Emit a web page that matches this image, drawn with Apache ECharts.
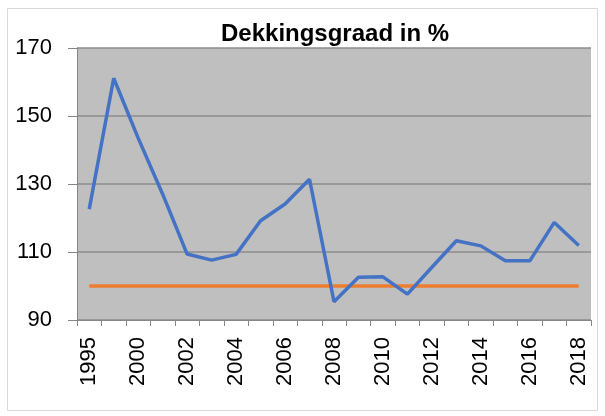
<!DOCTYPE html>
<html>
<head>
<meta charset="utf-8">
<script src="https://cdn.jsdelivr.net/npm/echarts@6/dist/echarts.min.js"></script>
<style>
  html, body { margin: 0; padding: 0; background: #fff; }
  #chart { width: 605px; height: 416px; }
</style>
</head>
<body>
<div id="chart"></div>
<script>
  const years = ['1995', '1999', '2000', '2001', '2002', '2003', '2004', '2005', '2006', '2007', '2008',
    '2009', '2010', '2011', '2012', '2013', '2014', '2015', '2016', '2017', '2018'];
  // dekkingsgraad per jaar
  const dekking = [122.6, 161.1, 143.5, 127, 109.4, 107.6, 109.3, 119.2, 124.1, 131.4, 95.4,
    102.6, 102.7, 97.6, 105.5, 113.3, 111.8, 107.4, 107.4, 118.7, 111.9];
  // ondergrens 100%
  const grens = [100, 100, 100, 100, 100, 100, 100, 100, 100, 100, 100,
    100, 100, 100, 100, 100, 100, 100, 100, 100, 100];

  const font = 'Liberation Sans';
  const chart = echarts.init(document.getElementById('chart'));

  const option = {
    backgroundColor: '#fff',
    animation: false,
    title: {
      text: 'Dekkingsgraad in %',
      left: 216,
      top: 17,
      textStyle: { fontFamily: font, fontSize: 24, fontWeight: 'bold', color: '#000' }
    },
    graphic: [{
      type: 'rect',
      shape: { x: 7.5, y: 8.5, width: 590, height: 402 },
      style: { fill: 'none', stroke: '#d9d9d9', lineWidth: 1 },
      silent: true
    }],
    grid: {
      left: 77, right: 14, top: 48, bottom: 96,
      show: true,
      backgroundColor: '#bfbfbf',
      borderWidth: 0,
      outerBoundsMode: 'none'
    },
    xAxis: {
      type: 'category',
      data: years,
      boundaryGap: true,
      axisLine: { show: true, lineStyle: { color: '#868686', width: 1 } },
      axisTick: { show: true, interval: 0, length: 6, lineStyle: { color: '#868686' } },
      axisLabel: {
        interval: 1,
        rotate: 90,
        margin: 17,
        fontFamily: font,
        fontSize: 22,
        color: '#000'
      },
      splitLine: { show: false }
    },
    yAxis: {
      type: 'value',
      min: 90,
      max: 170,
      interval: 20,
      axisLine: { show: true, lineStyle: { color: '#868686', width: 1 } },
      axisTick: { show: true, length: 9, lineStyle: { color: '#868686' } },
      axisLabel: { margin: 25, fontFamily: font, fontSize: 22, color: '#000' },
      splitLine: { show: true, lineStyle: { color: '#8c8c8c', width: 1.5 } }
    },
    series: [
      {
        name: 'Dekkingsgraad',
        type: 'line',
        data: dekking,
        showSymbol: false,
        lineStyle: { color: '#4472C4', width: 3.5 },
        z: 3
      },
      {
        name: 'Grens',
        type: 'line',
        data: grens,
        showSymbol: false,
        lineStyle: { color: '#ED7D31', width: 3.5 },
        z: 2
      }
    ]
  };

  chart.setOption(option);
</script>
</body>
</html>
